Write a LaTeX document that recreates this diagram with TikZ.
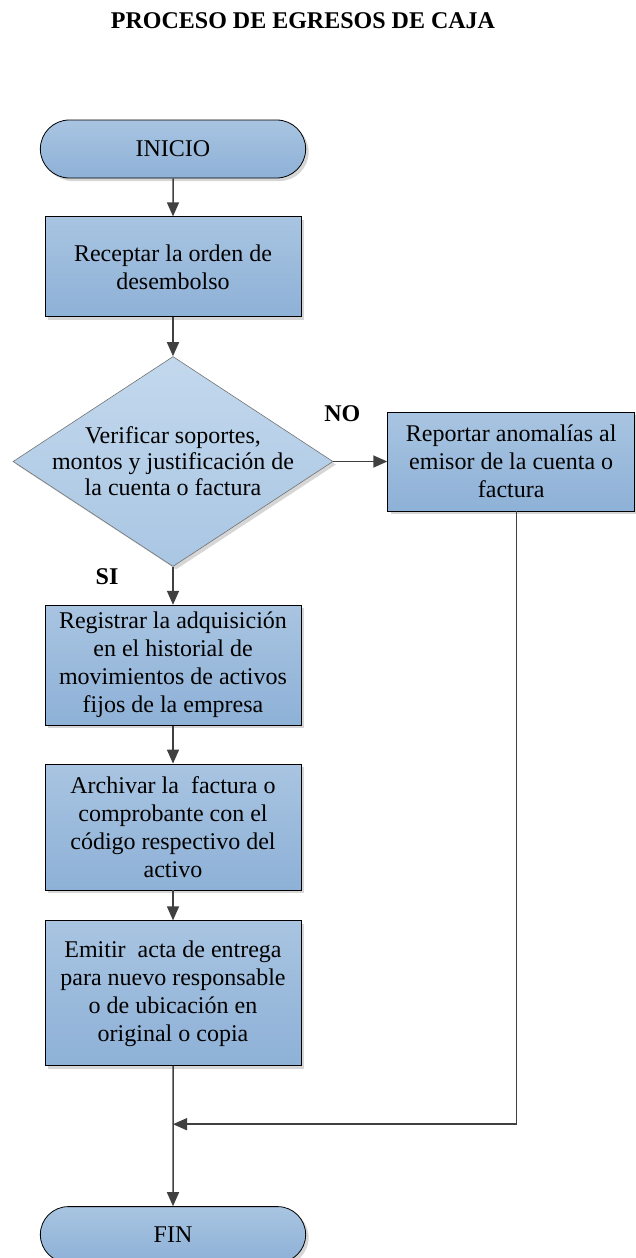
\documentclass[tikz,border=0pt]{standalone}
\usepackage{fontspec}
\setmainfont{Liberation Serif}
\usetikzlibrary{arrows.meta,positioning,calc,shapes.geometric,shapes.misc,shadows}
\definecolor{fTop}{HTML}{A8C4E1}
\definecolor{fBot}{HTML}{8EB1D7}
\definecolor{dTop}{HTML}{C3D8ED}
\definecolor{dBot}{HTML}{A9C6E3}
\definecolor{lnGray}{HTML}{404040}
\tikzset{
  >={Triangle[length=14pt,width=12pt]},
  sombra/.style={drop shadow={shadow xshift=3pt,shadow yshift=-3pt,fill=black!16,opacity=1}},
  term/.style ={rounded rectangle,draw=black,line width=0.8pt,top color=fTop,bottom color=fBot,minimum width=272pt,minimum height=58pt,sombra},
  proc/.style ={rectangle,draw=black,line width=0.8pt,top color=fTop,bottom color=fBot,align=center,inner sep=2pt,minimum width=256pt,sombra},
  decis/.style={diamond,draw=black!55,line width=0.6pt,top color=dTop,bottom color=dBot,minimum width=320pt,minimum height=210pt,inner sep=0pt,sombra},
  lbl/.style  ={font=\fontsize{24}{28}\selectfont\bfseries},
  rel/.style  ={->,line width=1.5pt,lnGray},
}
\begin{document}
\begin{tikzpicture}[x=1pt,y=1pt,font=\fontsize{24}{28}\selectfont]
  \useasboundingbox (0,0) rectangle (636,-1258);
  \node[lbl] (titulo) at (303,-21) {PROCESO DE EGRESOS DE CAJA};
  \node[term] (inicio) at (173,-149) {INICIO};
  \node[proc,minimum height=100pt,below=38pt of inicio] (recep) {Receptar la orden de\\desembolso};
  \node[decis,below=39pt of recep] (verif) {};
  \node[align=center,font=\fontsize{24}{26}\selectfont] (veriftxt) at (verif.center)
        {Verificar soportes,\\montos y justificación de\\la cuenta o factura};
  \node[proc,minimum width=247pt,minimum height=99pt,right=54pt of verif] (report)
        {Reportar anomalías al\\emisor de la cuenta o\\factura};
  \node[proc,minimum height=120pt,below=38pt of verif] (regis)
        {Registrar la adquisición\\en el historial de\\movimientos de activos\\fijos de la empresa};
  \node[proc,minimum height=126pt,below=38pt of regis] (archiv)
        {Archivar la\ \ factura o\\comprobante con el\\código respectivo del\\activo};
  \node[proc,minimum height=145pt,below=30pt of archiv] (emit)
        {Emitir\ \ acta de entrega\\para nuevo responsable\\o de ubicación en\\original o copia};
  \node[term,minimum height=56pt,below=140pt of emit] (fin) {FIN};
  \coordinate[below=58pt of emit.south] (junta);
  % etiquetas de la decision
  \node[lbl] (no) at ($(verif.east)+(9,48)$) {NO};
  \node[lbl] (si) at ($(verif.south)+(-66,-10)$) {SI};
  % conectores
  \draw[rel] (inicio) -- (recep);
  \draw[rel] (recep) -- (verif);
  \draw[rel] (verif) -- (report);
  \draw[rel] (verif) -- (regis);
  \draw[rel] (regis) -- (archiv);
  \draw[rel] (archiv) -- (emit);
  \draw[rel] (emit) -- (fin);
  \draw[rel] ([xshift=5.5pt]report.south) |- (junta);
\end{tikzpicture}
\end{document}
